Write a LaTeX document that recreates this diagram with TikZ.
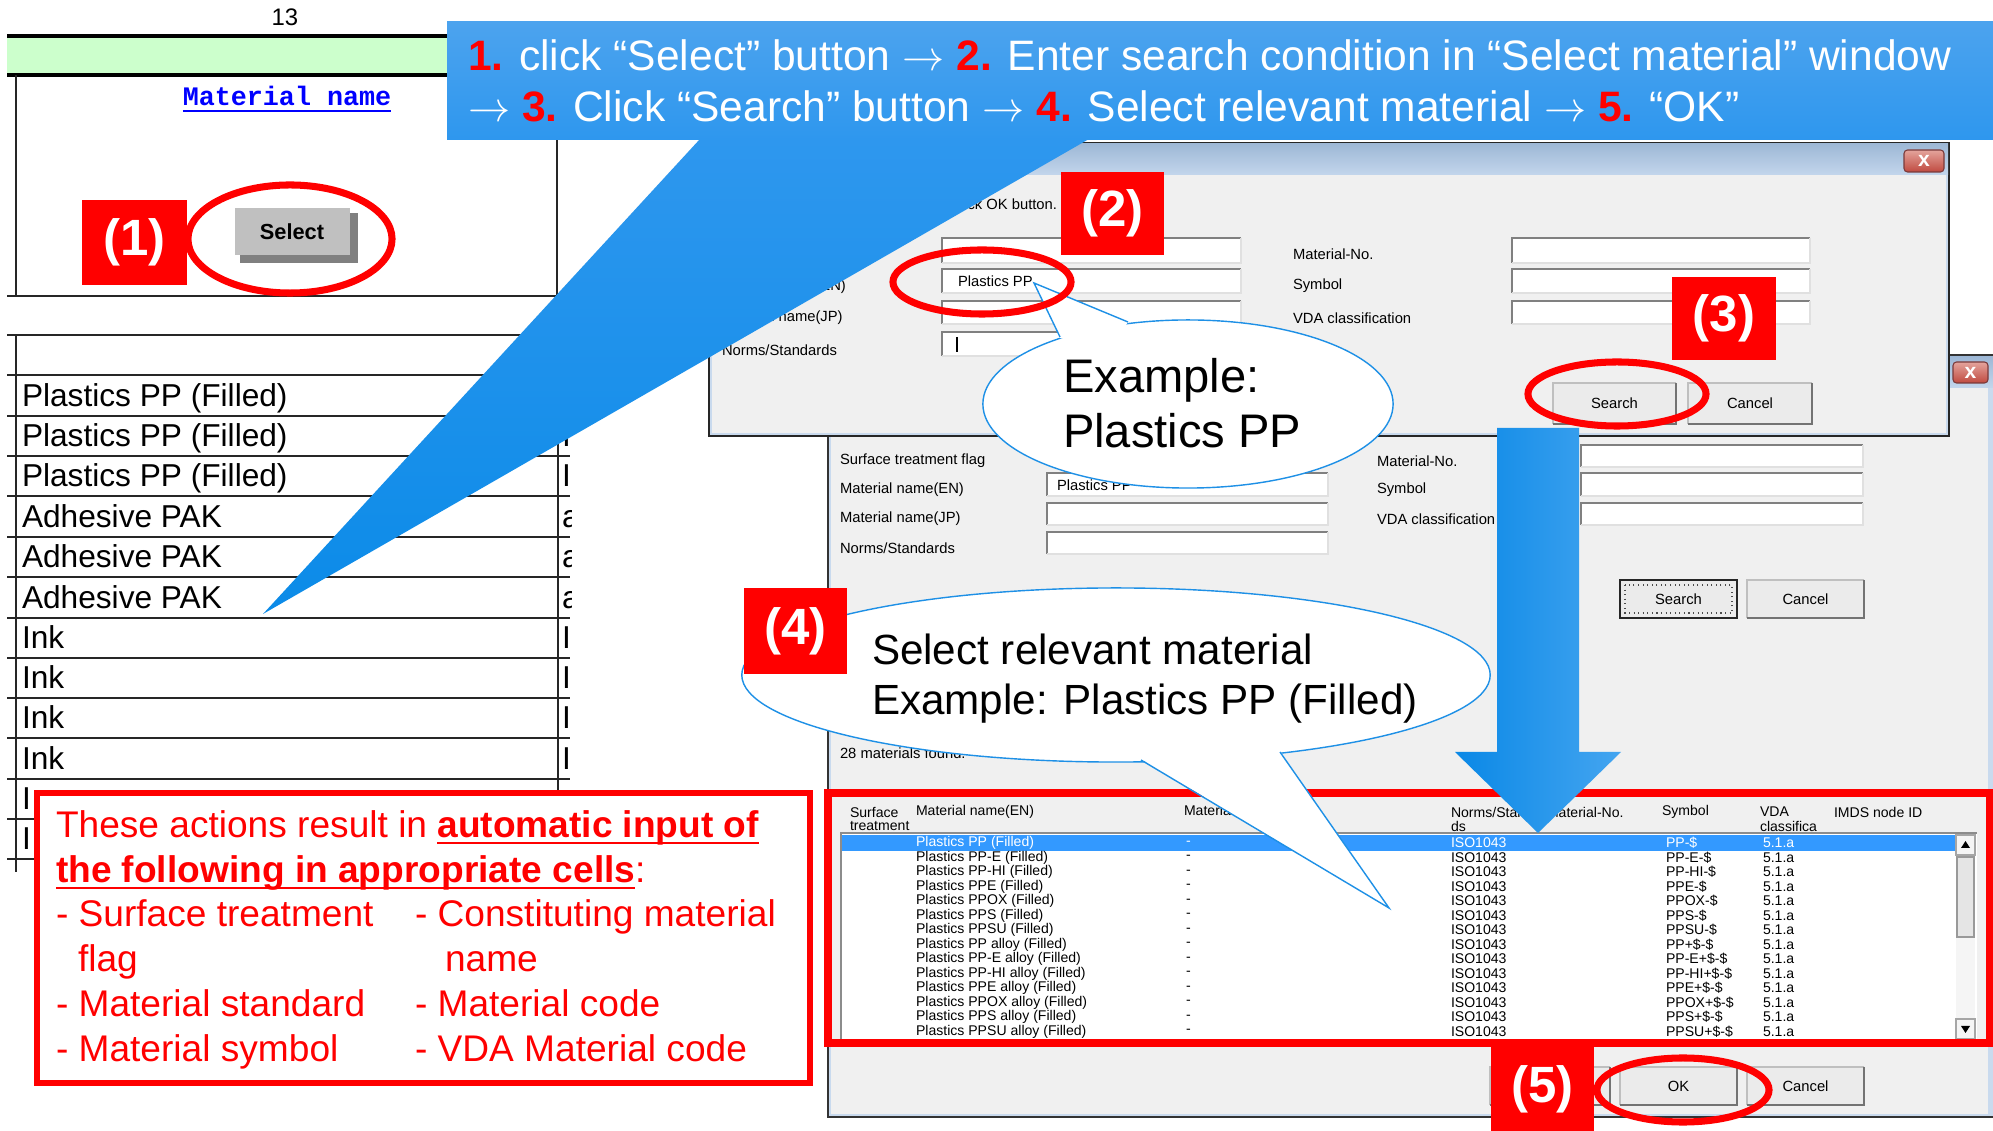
\documentclass[tikz,border=0pt]{standalone}
\usepackage{fontspec}
\setmainfont{Liberation Sans}
\newfontfamily\monofont{Liberation Mono}
\usetikzlibrary{calc}
\definecolor{sheetgreen}{HTML}{CCFFCC}
\definecolor{matblue}{HTML}{0000FF}
\definecolor{selface}{HTML}{C0C0C0}
\definecolor{dlgbg}{HTML}{F0F0F0}
\definecolor{frameblue}{HTML}{C9DAEE}
\definecolor{titletop}{HTML}{9EB8D6}
\definecolor{titlebot}{HTML}{C3D6EC}
\definecolor{closetop}{HTML}{E4A49C}
\definecolor{closebot}{HTML}{C04A40}
\definecolor{closeedge}{HTML}{7A3A3A}
\definecolor{hdrtop}{HTML}{4CA3EE}
\definecolor{hdrbot}{HTML}{2E97EE}
\definecolor{tribot}{HTML}{0B8BE8}
\definecolor{arrL}{HTML}{0A88E6}
\definecolor{arrR}{HTML}{44A5F0}
\definecolor{bubbleline}{HTML}{1E90E6}
\definecolor{selrow}{HTML}{3399FF}
\definecolor{btnface}{HTML}{EBEBEB}
\newsavebox\ulbox
\newcommand\ul[1]{\sbox\ulbox{#1}\rlap{\rule[-1.7pt]{\wd\ulbox}{0.7pt}}\usebox\ulbox}
\tikzset{
  every node/.style={inner sep=0pt, outer sep=0pt},
  gridline/.style={line width=0.7pt, black!85},
  celltext/.style={anchor=base west, font=\fontsize{9}{10}\selectfont},
  ui/.style={anchor=west, font=\fontsize{4.2}{5}\selectfont},
  uic/.style={anchor=center, font=\fontsize{4.2}{5}\selectfont},
  lst/.style={anchor=west, font=\fontsize{4.0}{4.5}\selectfont},
  redlabel/.style={text=white, font=\bfseries\fontsize{14.5}{16}\selectfont},
  ring/.style={draw=red, line width=2pt},
  bubble/.style={draw=bubbleline, fill=white, line width=0.4pt},
  bubbleedge/.style={draw=bubbleline, line width=0.4pt},
  redtxt/.style={anchor=base west, text=red, font=\fontsize{10.55}{12}\selectfont},
  hdrtxt/.style={anchor=base west, text=white, font=\fontsize{12.1}{14}\selectfont},
  bubtxtA/.style={anchor=base west, font=\fontsize{13.4}{15}\selectfont},
  bubtxtB/.style={anchor=base west, font=\fontsize{12}{14}\selectfont},
}
\newcommand\field[4]{%
  \fill[white] (#1,#2) rectangle (#3,#4);
  \draw[line width=0.6pt, black!50] (#1,#4) -- (#1,#2) -- (#3,#2);
  \draw[line width=0.4pt, black!12] (#3,#2) -- (#3,#4) -- (#1,#4);
}
\newcommand\winbtn[6]{%
  \fill[btnface] (#2,#3) rectangle (#4,#5);
  \draw[line width=0.4pt, black!25] (#2,#5) -- (#2,#3) -- (#4,#3);
  \draw[line width=0.6pt, black!55] (#4,#3) -- (#4,#5) -- (#2,#5);
  \node[uic] (#1) at ($(#2,#3)!0.5!(#4,#5)$) {#6};
}
\newcommand\closebtn[5]{%
  \shadedraw[top color=closetop, bottom color=closebot, draw=closeedge, line width=0.3pt, rounded corners=1pt] (#2,#3) rectangle (#4,#5);
  \node[text=white, font=\bfseries\fontsize{6}{6}\selectfont] (#1) at ($(#2,#3)!0.5!(#4,#5)$) {x};
}
\begin{document}
\begin{tikzpicture}[x=0.01cm,y=-0.01cm]
\useasboundingbox (0,0) rectangle (1993,1131);
\fill[white] (0,0) rectangle (1993,1131);

% ---------------- spreadsheet top ----------------
\node[font=\fontsize{6.8}{7}\selectfont] (colnum) at (285,17) {13};
\fill[sheetgreen] (7,37) rectangle (460,75);
\draw[line width=1.1pt] (7,36) -- (460,36);
\draw[line width=1.1pt] (7,75) -- (460,75);
\draw[gridline] (16,75) -- (16,296);
\draw[gridline] (557,75) -- (557,296);
\draw[gridline] (7,296) -- (557,296);
\node[text=matblue, font=\monofont\bfseries\fontsize{7.6}{8}\selectfont, anchor=base] (matname) at (287,106) {\ul{Material name}};
% Select button
\fill[black!50] (240,213) rectangle (358,263);
\fill[selface] (234,207) rectangle (350,255);
\draw[white, line width=0.6pt] (234,255) -- (234,207) -- (350,207);
\node[font=\bfseries\fontsize{6.2}{7}\selectfont] (selbtn) at (292,232) {Select};

% ---------------- spreadsheet list ----------------
\foreach \yy in {335,375,416,456,496,537,577,618,658,698,738,779,819,859}
  \draw[gridline] (7,\yy) -- (570,\yy);
\draw[gridline] (16,335) -- (16,872);
\draw[gridline] (558,335) -- (558,862);
\foreach \t/\b [count=\i] in {Plastics PP (Filled)/407,Plastics PP (Filled)/447,Plastics PP (Filled)/487,Adhesive PAK/528,Adhesive PAK/568,Adhesive PAK/609,Ink/649,Ink/689,Ink/729,Ink/770,I/810,I/850}
  \node[celltext] (cell\i) at (22,\b) {\t};
\begin{scope}
  \clip (560,330) rectangle (571,790);
  \foreach \t/\b [count=\i] in {I/407,I/447,I/487,a/528,a/568,a/609,I/649,I/689,I/729,I/770}
    \node[celltext] (cut\i) at (562,\b) {\t};
\end{scope}

% ---------------- dialog 2 (back) ----------------
\filldraw[fill=frameblue, draw=black!80, line width=0.3pt] (828,355) rectangle (2000,1117);
\shade[top color=titletop, bottom color=titlebot] (830,357) rectangle (1998,388);
\fill[dlgbg] (831,388) rectangle (1988,1114);
\closebtn{closeB}{1953}{362}{1988}{383}
\node[ui] (d2l1) at (840,461) {Surface treatment flag};
\node[ui] (d2l2) at (840,490) {Material name(EN)};
\node[ui] (d2l3) at (840,519) {Material name(JP)};
\node[ui] (d2l4) at (840,548) {Norms/Standards};
\field{1047}{473}{1328}{496}
\field{1047}{503}{1328}{525}
\field{1047}{532}{1328}{554}
\node[ui] (d2f1) at (1057,485) {Plastics PP};
\node[ui] (d2r1) at (1377,461) {Material-No.};
\node[ui] (d2r2) at (1377,490) {Symbol};
\node[ui] (d2r3) at (1377,519) {VDA classification};
\field{1581}{445}{1863}{467}
\field{1581}{473}{1863}{496}
\field{1581}{503}{1863}{525}
\winbtn{srchB}{1620}{580}{1737}{618}{Search}
\draw[black!85, line width=0.6pt] (1620,580) rectangle (1737,618);
\draw[black!70, densely dotted, line width=0.3pt] (1625,585) rectangle (1732,613);
\winbtn{cancB}{1747}{580}{1864}{618}{Cancel}
\node[ui] (found) at (840,753) {28 materials found.};
% table header
\node[lst] (th1a) at (850,812) {Surface};
\node[lst] (th1b) at (850,826) {treatment};
\node[lst] (th2) at (916,812) {Material name(EN)};
\node[lst] (th3) at (1184,812) {Material name(JP)};
\node[lst] (th4a) at (1451,812) {Norms/Standar};
\node[lst] (th4b) at (1451,826) {ds};
\node[lst] (th5) at (1547,812) {Material-No.};
\node[lst] (th6) at (1662,812) {Symbol};
\node[lst] (th7a) at (1760,812) {VDA};
\node[lst] (th7b) at (1760,826) {classifica};
\node[lst] (th8) at (1834,812) {IMDS node ID};
% list box
\fill[white] (841,833) rectangle (1977,1040);
\draw[black!45, line width=0.4pt] (841,1040) -- (841,833) -- (1977,833);
\begin{scope}
  \clip (842,834) rectangle (1955,1039);
  \fill[selrow] (842,835) rectangle (1955,851);
  \node[lst, text=white] (r1n) at (916,843) {Plastics PP (Filled)};
  \node[lst, text=white] (r1m) at (1186,843) {-};
  \node[lst, text=white] (r1s) at (1451,843) {ISO1043};
  \node[lst, text=white] (r1y) at (1666,843) {PP-\$};
  \node[lst, text=white] (r1v) at (1763,843) {5.1.a};
  \foreach \n/\s [count=\i from 2] in {Plastics PP-E (Filled)/PP-E-\$,Plastics PP-HI (Filled)/PP-HI-\$,Plastics PPE (Filled)/PPE-\$,Plastics PPOX (Filled)/PPOX-\$,Plastics PPS (Filled)/PPS-\$,Plastics PPSU (Filled)/PPSU-\$,Plastics PP alloy (Filled)/PP+\$-\$,Plastics PP-E alloy (Filled)/PP-E+\$-\$,Plastics PP-HI alloy (Filled)/PP-HI+\$-\$,Plastics PPE alloy (Filled)/PPE+\$-\$,Plastics PPOX alloy (Filled)/PPOX+\$-\$,Plastics PPS alloy (Filled)/PPS+\$-\$,Plastics PPSU alloy (Filled)/PPSU+\$-\$}{
    \pgfmathsetmacro\ry{843+(\i-1)*14.5}
    \node[lst] (rn\i) at (916,\ry) {\n};
    \node[lst] (rm\i) at (1186,\ry) {-};
    \node[lst] (rs\i) at (1451,\ry) {ISO1043};
    \node[lst] (ry\i) at (1666,\ry) {\s};
    \node[lst] (rv\i) at (1763,\ry) {5.1.a};
  }
\end{scope}
% scrollbar
\fill[black!4] (1956,835) rectangle (1975,1039);
\draw[black!35, line width=0.3pt] (1956,835) rectangle (1975,855);
\fill[black] (1965.5,841) -- (1961,848) -- (1970,848) -- cycle;
\fill[black!10] (1957,857) rectangle (1974,937);
\draw[black!40, line width=0.3pt] (1957,857) rectangle (1974,937);
\draw[black!35, line width=0.3pt] (1956,1019) rectangle (1975,1039);
\fill[black] (1961,1026) -- (1970,1026) -- (1965.5,1033) -- cycle;
% bottom buttons
\winbtn{hidB}{1490}{1067}{1610}{1105}{}
\winbtn{okB}{1620}{1067}{1737}{1105}{OK}
\winbtn{canc2B}{1747}{1067}{1864}{1105}{Cancel}

% red frame around the list
\draw[red, line width=2pt] (828,793) rectangle (1989,1043);

% ---------------- dialog 1 (front) ----------------
\filldraw[fill=frameblue, draw=black!85, line width=0.4pt] (709,143) rectangle (1949,436);
\shade[top color=titletop, bottom color=titlebot] (710,144) rectangle (1948,175);
\fill[dlgbg] (712,175) rectangle (1946,433);
\closebtn{closeA}{1904}{150}{1944}{172}
\node[ui, anchor=east] (okhint) at (1057,204) {click OK button.};
\node[ui] (d1l1) at (722,255) {Surface treatment flag};
\node[ui] (d1l2) at (722,287) {Material name(EN)};
\node[ui] (d1l3) at (722,318) {Material name(JP)};
\node[ui] (d1l4) at (722,350) {Norms/Standards};
\field{942}{238}{1241}{263}
\field{942}{269}{1241}{293}
\field{942}{301}{1241}{324}
\field{942}{332}{1241}{356}
\node[ui] (d1f) at (958,281) {Plastics PP};
\draw[black, line width=0.4pt] (957,337) -- (957,352);
\node[ui] (d1r1) at (1293,254) {Material-No.};
\node[ui] (d1r2) at (1293,286) {Symbol};
\node[ui] (d1r3) at (1293,318) {VDA classification};
\field{1512}{238}{1810}{263}
\field{1512}{269}{1810}{293}
\field{1512}{301}{1810}{324}
\winbtn{srchA}{1553}{383}{1676}{424}{Search}
\winbtn{cancA}{1688}{383}{1812}{424}{Cancel}

% ---------------- blue down arrow ----------------
\shade[left color=arrL, right color=arrR] (1497,428) -- (1579,428) -- (1579,752) -- (1621,752) -- (1538,833) -- (1455,752) -- (1497,752) -- cycle;

% ---------------- bubbles ----------------
\draw[bubble] (1188,404) ellipse [x radius=2.05cm, y radius=0.84cm];
\fill[white] (1060,338) -- (1034,283) -- (1128,322) -- (1110,350) -- cycle;
\draw[bubbleedge] (1060,337) -- (1034,283) -- (1128,322);
\node[bubtxtA] (ex1a) at (1063,393) {Example:};
\node[bubtxtA] (ex1b) at (1063,448) {Plastics PP};

\draw[bubble] (1116,675) ellipse [x radius=3.74cm, y radius=0.87cm];
\fill[white] (1141,759) -- (1389,908) -- (1280,751) -- (1200,740) -- cycle;
\draw[bubbleedge] (1141,760) -- (1389,908) -- (1280,752);
\node[bubtxtB] (ex2a) at (872,665) {Select relevant material};
\node[bubtxtB] (ex2b) at (872,715) {Example: Plastics PP (Filled)};

% ---------------- red rings ----------------
\draw[ring] (290,239) ellipse [x radius=1.02cm, y radius=0.54cm];
\draw[ring] (982,282) ellipse [x radius=0.89cm, y radius=0.32cm];
\draw[ring] (1617,394) ellipse [x radius=0.89cm, y radius=0.32cm];
\draw[ring] (1683,1090) ellipse [x radius=0.86cm, y radius=0.32cm];

% ---------------- red step labels ----------------
\fill[red] (82,200) rectangle (187,285);
\node[redlabel] (s1) at (134.5,242.5) {(1)};
\fill[red] (1061,172) rectangle (1164,255);
\node[redlabel] (s2) at (1112.5,213.5) {(2)};
\fill[red] (1672,277) rectangle (1776,360);
\node[redlabel] (s3) at (1724,318.5) {(3)};
\fill[red] (744,588) rectangle (847,674);
\node[redlabel] (s4) at (795.5,631) {(4)};
\fill[red] (1491,1047) rectangle (1594,1131);
\node[redlabel] (s5) at (1542.5,1089) {(5)};

% ---------------- red text box ----------------
\draw[red, line width=1.85pt, fill=white] (37,793) rectangle (810,1083);
\node[redtxt] (rt1) at (56,838) {These actions result in \textbf{\ul{automatic input of}}};
\node[redtxt] (rt2) at (56,883) {\textbf{\ul{the following in appropriate cells}}:};
\node[redtxt] (rt3a) at (56,927) {- Surface treatment};
\node[redtxt] (rt3b) at (415,927) {- Constituting material};
\node[redtxt] (rt4a) at (78,972) {flag};
\node[redtxt] (rt4b) at (445,972) {name};
\node[redtxt] (rt5a) at (56,1017) {- Material standard};
\node[redtxt] (rt5b) at (415,1017) {- Material code};
\node[redtxt] (rt6a) at (56,1062) {- Material symbol};
\node[redtxt] (rt6b) at (415,1062) {- VDA Material code};

% ---------------- blue header callout ----------------
\shade[top color=hdrtop, bottom color=hdrbot] (447,22) rectangle (1993,140);
\shade[top color=hdrbot, bottom color=tribot] (700,139) -- (1089,139) -- (263,614) -- cycle;
\node[hdrtxt] (hdr1) at (468,71) {\textcolor{red}{\textbf{1.}} click “Select” button $\rightarrow$ \textcolor{red}{\textbf{2.}} Enter search condition in “Select material” window};
\node[hdrtxt] (hdr2) at (468,122) {$\rightarrow$ \textcolor{red}{\textbf{3.}} Click “Search” button $\rightarrow$ \textcolor{red}{\textbf{4.}} Select relevant material $\rightarrow$ \textcolor{red}{\textbf{5.}} “OK”};
\end{tikzpicture}
\end{document}
